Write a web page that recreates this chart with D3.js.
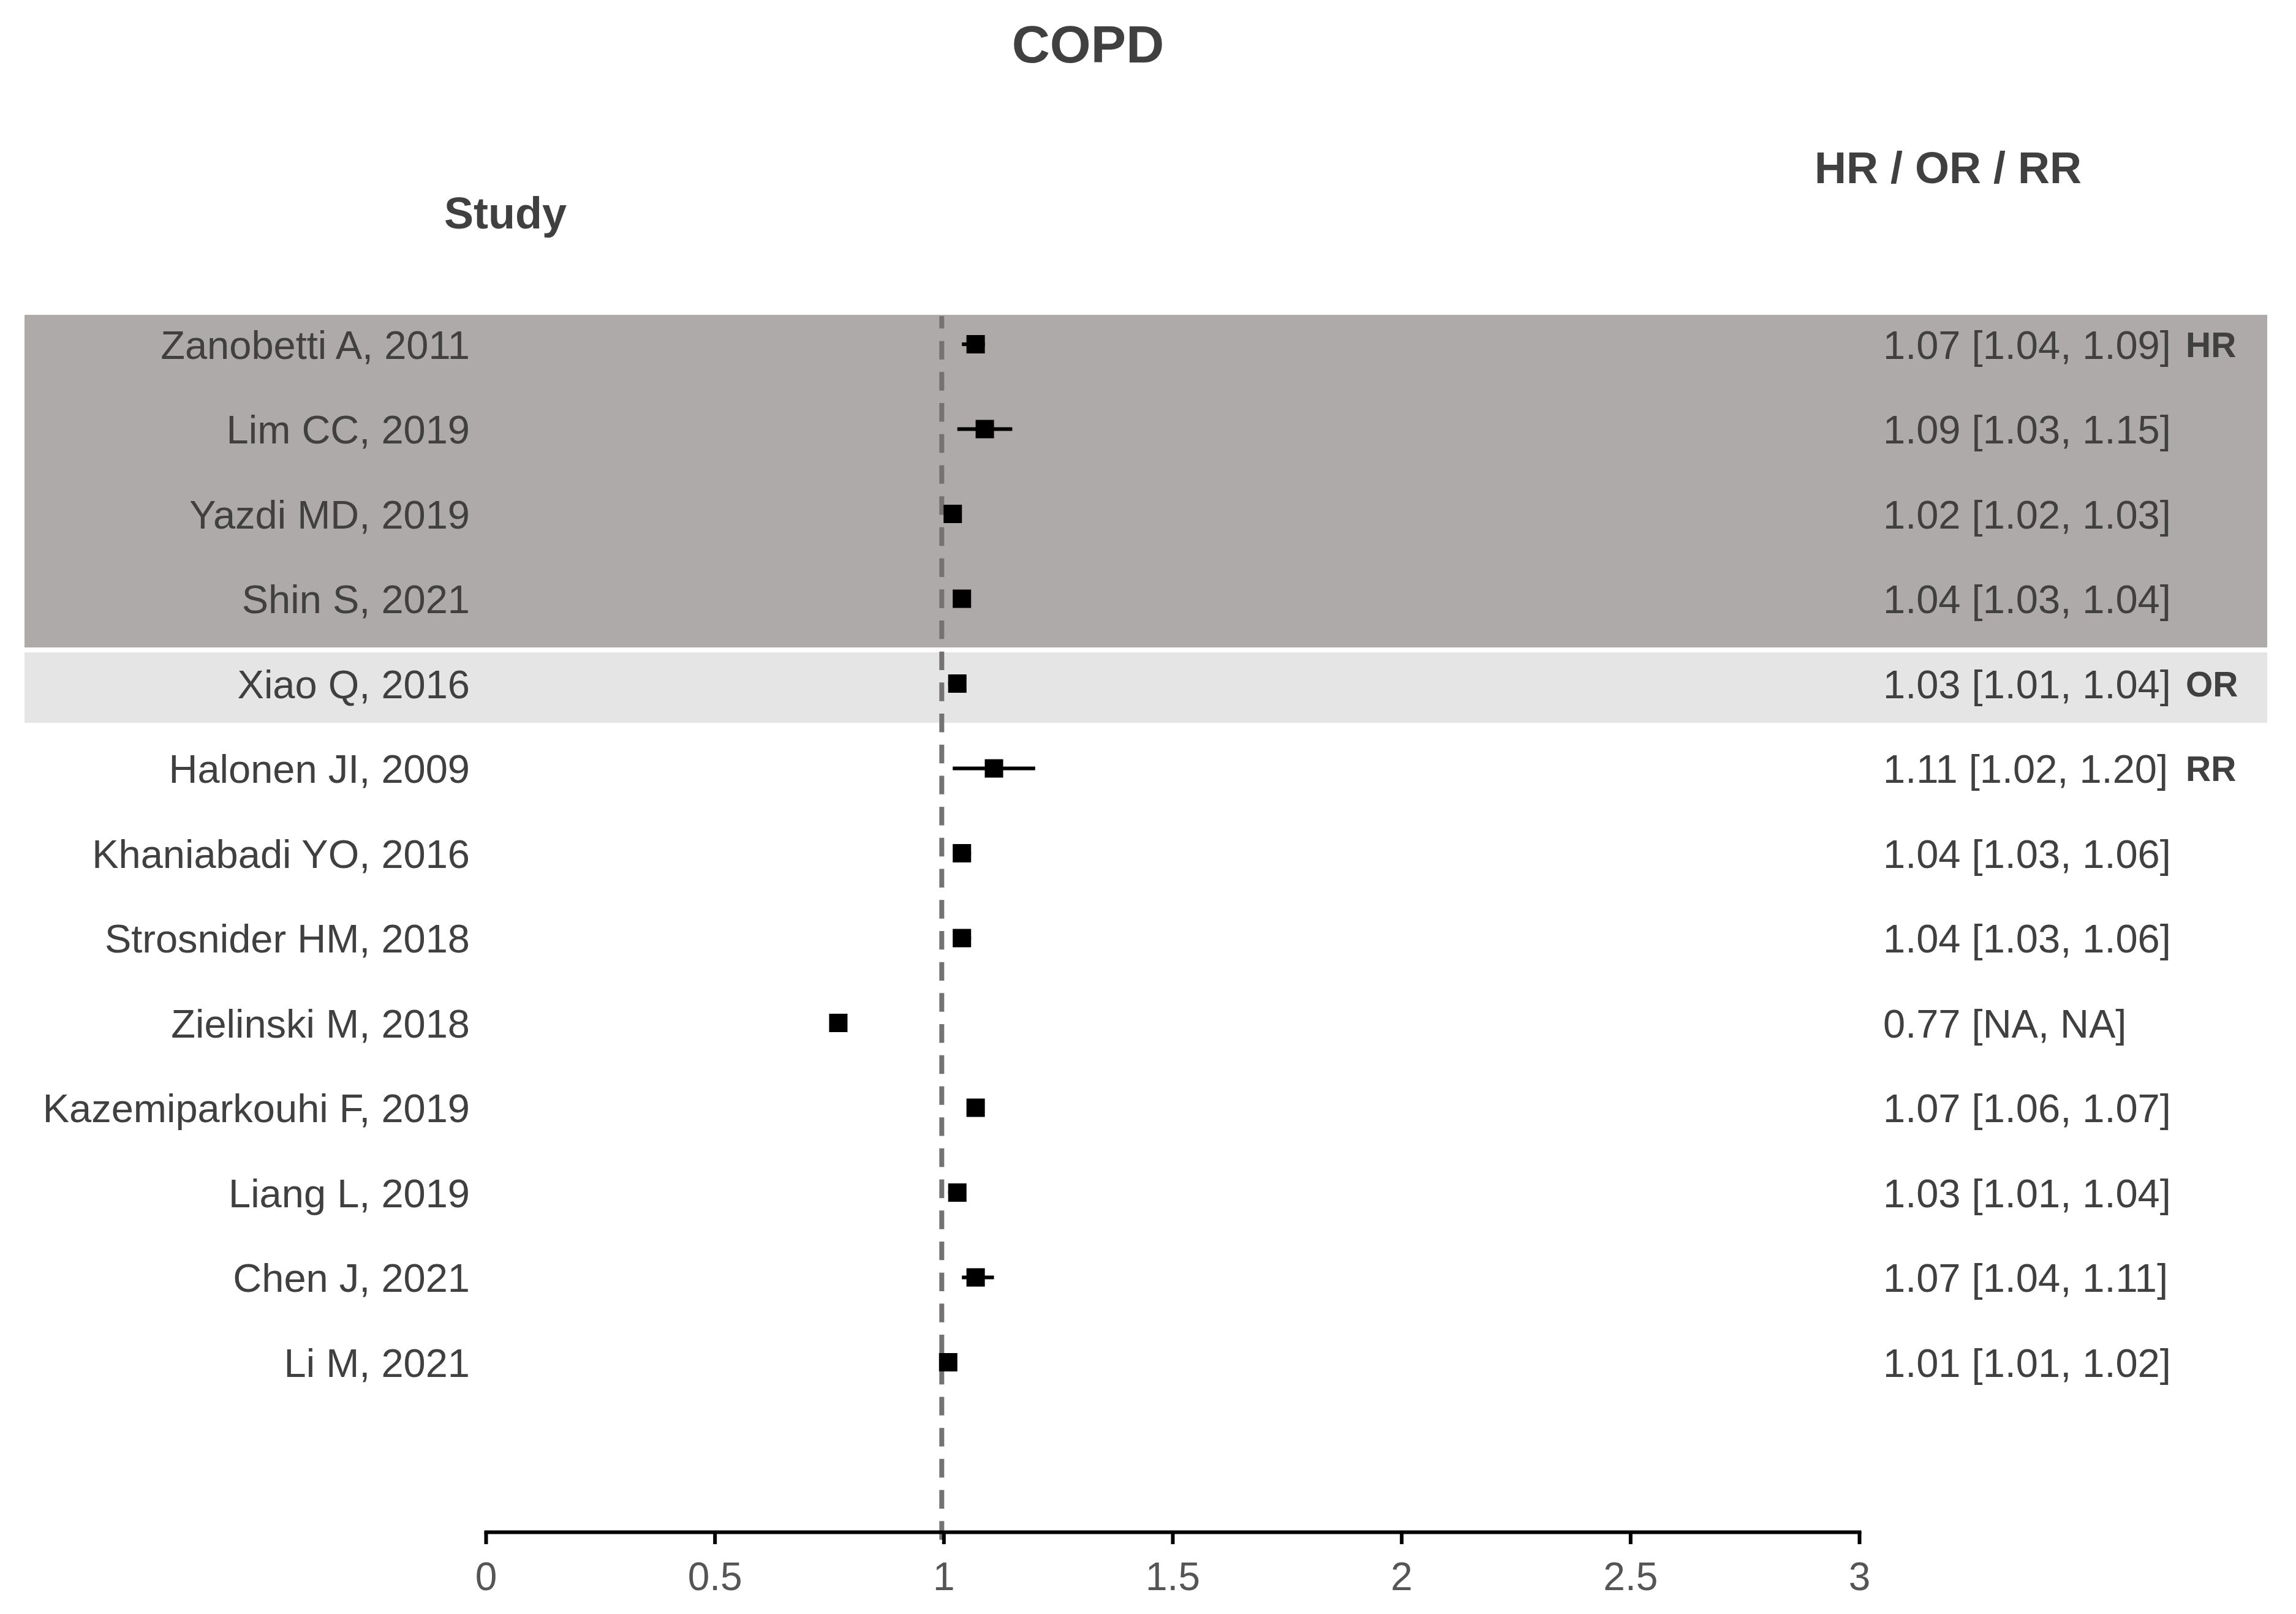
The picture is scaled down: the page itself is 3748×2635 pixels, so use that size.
<!DOCTYPE html>
<html>
<head>
<meta charset="utf-8">
<script src="https://cdn.jsdelivr.net/npm/d3@7"></script>
<style>
  html, body { margin: 0; padding: 0; background: #ffffff; }
  svg { display: block; }
  text { font-family: "Liberation Sans", Arial, Helvetica, sans-serif; }
</style>
</head>
<body>
<svg id="chart" width="3748" height="2635"></svg>
<script>
// ---------- data ----------
const studies = [
  "Zanobetti A, 2011", "Lim CC, 2019", "Yazdi MD, 2019", "Shin S, 2021",
  "Xiao Q, 2016", "Halonen JI, 2009", "Khaniabadi YO, 2016", "Strosnider HM, 2018",
  "Zielinski M, 2018", "Kazemiparkouhi F, 2019", "Liang L, 2019", "Chen J, 2021", "Li M, 2021"
];
const estimates = [1.07, 1.09, 1.02, 1.04, 1.03, 1.11, 1.04, 1.04, 0.77, 1.07, 1.03, 1.07, 1.01];
const lowerCI   = [1.04, 1.03, 1.02, 1.03, 1.01, 1.02, 1.03, 1.03, null, 1.06, 1.01, 1.04, 1.01];
const upperCI   = [1.09, 1.15, 1.03, 1.04, 1.04, 1.20, 1.06, 1.06, null, 1.07, 1.04, 1.11, 1.02];
const measureLabels = ["HR", "", "", "", "OR", "RR", "", "", "", "", "", "", ""];
const xTicks = [0, 0.5, 1, 1.5, 2, 2.5, 3];
const xTickLabels = ["0", "0.5", "1", "1.5", "2", "2.5", "3"];
const refValue = 1;
// shaded groups (row index ranges)
const groupFirst = [0, 4];
const groupLast  = [3, 4];
const titleText = "COPD";
const studyHeader = "Study";
const estHeader = "HR / OR / RR";

// ---------- styling ----------
const groupFill = ["#aeaaa9", "#e5e5e5"];
const groupPadTop = [0.347, 0.368];      // in row steps
const groupPadBottom = [0.574, 0.462];
const textColor = "#404040";

const svg = d3.select("#chart");

const x = d3.scaleLinear().domain([0, 3]).range([793, 3035]);
const rowIdx = d3.range(studies.length);
const y = d3.scaleLinear().domain([0, studies.length - 1]).range([562, 2224]);
const step = y(1) - y(0);

const fmt = v => v == null ? "NA" : d3.format(".2f")(v);
const rows = rowIdx.map(i => ({
  i, study: studies[i], est: estimates[i], lo: lowerCI[i], hi: upperCI[i], m: measureLabels[i]
}));

// bands
svg.append("g").selectAll("rect")
  .data(groupFirst.map((f, k) => ({ f, l: groupLast[k], k })))
  .join("rect")
  .attr("x", 40)
  .attr("width", 3701 - 40)
  .attr("y", d => y(d.f) - groupPadTop[d.k] * step)
  .attr("height", d => (y(d.l) + groupPadBottom[d.k] * step) - (y(d.f) - groupPadTop[d.k] * step))
  .attr("fill", d => groupFill[d.k]);

// reference dashed line
svg.append("line")
  .attr("x1", x(refValue) - 3).attr("x2", x(refValue) - 3)
  .attr("y1", y(0) - 0.347 * step + 2).attr("y2", 2514)
  .attr("stroke", "#777272")
  .attr("stroke-width", 8)
  .attr("stroke-dasharray", "30.4,20.3")
  .attr("stroke-dashoffset", 10);

// CI lines
svg.append("g").selectAll("line")
  .data(rows.filter(d => d.lo != null && d.hi != null))
  .join("line")
  .attr("x1", d => x(d.lo)).attr("x2", d => x(d.hi))
  .attr("y1", d => y(d.i)).attr("y2", d => y(d.i))
  .attr("stroke", "#000").attr("stroke-width", 6);

// point markers
const ms = 30;
svg.append("g").selectAll("rect")
  .data(rows)
  .join("rect")
  .attr("x", d => x(d.est) - ms / 2)
  .attr("y", d => y(d.i) - ms / 2)
  .attr("width", ms).attr("height", ms)
  .attr("fill", "#000");

// study labels
svg.append("g").selectAll("text")
  .data(rows)
  .join("text")
  .attr("x", 767)
  .attr("y", d => y(d.i) + 23.5)
  .attr("text-anchor", "end")
  .attr("font-size", 65)
  .attr("fill", textColor)
  .text(d => d.study);

// estimate text
svg.append("g").selectAll("text")
  .data(rows)
  .join("text")
  .attr("x", 3074)
  .attr("y", d => y(d.i) + 23.5)
  .attr("font-size", 65)
  .attr("fill", textColor)
  .text(d => `${fmt(d.est)} [${fmt(d.lo)}, ${fmt(d.hi)}]`);

// measure labels
svg.append("g").selectAll("text")
  .data(rows.filter(d => d.m))
  .join("text")
  .attr("x", 3568)
  .attr("y", d => y(d.i) + 20.5)
  .attr("font-size", 57)
  .attr("font-weight", "bold")
  .attr("fill", textColor)
  .text(d => d.m);

// axis
const axis = d3.axisBottom(x).tickValues(xTicks)
  .tickFormat((d, i) => xTickLabels[i])
  .tickSizeOuter(0).tickSizeInner(20).tickPadding(30);
const ax = svg.append("g").attr("transform", "translate(0,2501)").call(axis);
ax.select(".domain").attr("stroke", "#000").attr("stroke-width", 6).attr("stroke-linecap", "square");
ax.selectAll(".tick line").attr("stroke", "#000").attr("stroke-width", 6);
ax.selectAll(".tick text")
  .attr("font-size", 64)
  .attr("font-family", "'Liberation Sans', Arial, sans-serif")
  .attr("fill", "#555555");

// headers and title
svg.append("text").attr("x", 1776).attr("y", 102)
  .attr("text-anchor", "middle").attr("font-size", 86).attr("font-weight", "bold")
  .attr("fill", textColor).text(titleText);
svg.append("text").attr("x", 825).attr("y", 373)
  .attr("text-anchor", "middle").attr("font-size", 72).attr("font-weight", "bold")
  .attr("fill", textColor).text(studyHeader);
svg.append("text").attr("x", 3180).attr("y", 299)
  .attr("text-anchor", "middle").attr("font-size", 72).attr("font-weight", "bold")
  .attr("fill", textColor).text(estHeader);
</script>
</body>
</html>
